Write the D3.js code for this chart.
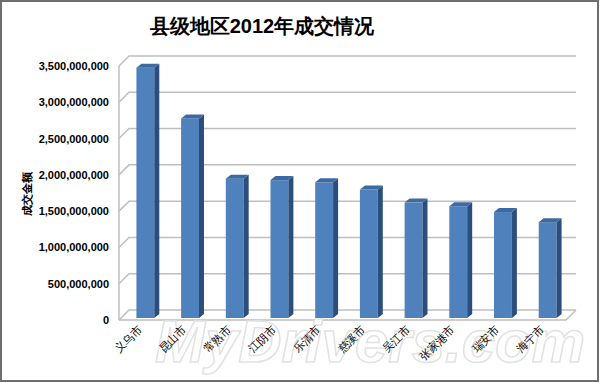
<!DOCTYPE html>
<html>
<head>
<meta charset="utf-8">
<script src="https://cdn.jsdelivr.net/npm/d3@7"></script>
<style>
  body { margin: 0; background: #fff; }
  text { font-family: "Liberation Sans", Arial, sans-serif; }
</style>
</head>
<body>
<svg width="600" height="383"></svg>
<script>
const categories = ["义乌市", "昆山市", "常熟市", "江阴市", "乐清市", "慈溪市", "吴江市", "张家港市", "瑞安市", "海宁市"];
const values = [3450000000, 2750000000, 1920000000, 1900000000, 1870000000, 1770000000, 1590000000, 1540000000, 1460000000, 1320000000];
const yTicks = [0, 500000000, 1000000000, 1500000000, 2000000000, 2500000000, 3000000000, 3500000000];

const svg = d3.select("svg");
const width = +svg.attr("width");
const height = +svg.attr("height");

// frame
svg.append("rect").attr("x", 1).attr("y", 1).attr("width", width - 3).attr("height", height - 3)
  .attr("fill", "#fff").attr("stroke", "#6e6e6e").attr("stroke-width", 2);

// 3d geometry: front plane and back wall offset
const depth = { dx: 10, dy: -10 };
const x0 = 119, x1 = 566;
const yFront = d3.scaleLinear().domain([0, 3500000000]).range([320, 66]);
const yBar = d3.scaleLinear().domain([0, 3500000000]).range([318, 64]);
const xBand = d3.scaleBand().domain(categories).range([x0 + 4, x1 + 4]).paddingInner(0.6).paddingOuter(0.3);

const grid = svg.append("g").attr("stroke", "#bfbfbf").attr("stroke-width", 1.5).attr("fill", "none");
// left side wall and back wall gridlines
yTicks.forEach(t => {
  const yf = yFront(t);
  grid.append("path").attr("d", "M" + x0 + "," + yf + "L" + (x0 + depth.dx) + "," + (yf + depth.dy) + "L" + (x1 + depth.dx) + "," + (yf + depth.dy));
});
// front vertical axis line
grid.append("line").attr("x1", x0).attr("x2", x0).attr("y1", yFront(3500000000)).attr("y2", yFront(0));
// floor front edge
grid.append("path").attr("d", "M" + x0 + "," + yFront(0) + "L" + x1 + "," + yFront(0) + "L" + (x1 + depth.dx) + "," + (yFront(0) + depth.dy));

// watermark
svg.append("text").attr("x", 155).attr("y", 362)
  .attr("font-size", 60).attr("font-weight", "bold").attr("font-style", "italic")
  .attr("textLength", 430).attr("lengthAdjust", "spacingAndGlyphs")
  .attr("fill", "#fff").attr("stroke", "#e2e2e2").attr("stroke-width", 1.5)
  .text("MyDrivers.com");

// bars
const side = { dx: 5, dy: -4 };
const bars = svg.append("g").selectAll("g").data(categories).join("g");
bars.each(function(c, i) {
  const g = d3.select(this);
  const xl = xBand(c), xr = xl + xBand.bandwidth();
  const yt = yBar(values[i]), yb = yBar(0);
  g.append("rect").attr("x", xl).attr("y", yt).attr("width", xBand.bandwidth()).attr("height", yb - yt).attr("fill", "#4f81bd");
  g.append("path").attr("d", "M" + xr + "," + yt + "L" + (xr + side.dx) + "," + (yt + side.dy) + "L" + (xr + side.dx) + "," + (yb + side.dy) + "L" + xr + "," + yb + "Z").attr("fill", "#2c4e7c");
  g.append("path").attr("d", "M" + xl + "," + yt + "L" + (xl + side.dx) + "," + (yt + side.dy) + "L" + (xr + side.dx) + "," + (yt + side.dy) + "L" + xr + "," + yt + "Z").attr("fill", "#3d6aa1");
});

// y axis labels
const yaxis = d3.axisLeft(yFront).tickValues(yTicks).tickSize(0).tickPadding(0).tickFormat(d3.format(","));
const ag = svg.append("g").attr("transform", "translate(109,0)").call(yaxis);
ag.select(".domain").remove();
ag.selectAll("text").attr("font-family", "Liberation Sans, Arial, sans-serif").attr("font-size", 11).attr("font-weight", "bold").attr("fill", "#000");

// x labels
svg.append("g").selectAll("text").data(categories).join("text")
  .attr("transform", d => "translate(" + (xBand(d) + xBand.bandwidth() / 2 - 3) + ",330) rotate(-45)")
  .attr("text-anchor", "end")
  .attr("font-family", "Noto Sans CJK SC")
  .attr("font-size", 11)
  .attr("fill", "#000")
  .text(d => d);

// y title
svg.append("text").attr("transform", "translate(31,194) rotate(-90)")
  .attr("text-anchor", "middle").attr("font-family", "Noto Sans CJK SC")
  .attr("font-size", 11).attr("font-weight", "bold").text("成交金额");

// title
svg.append("text").attr("x", 262).attr("y", 33).attr("text-anchor", "middle")
  .attr("font-family", "Noto Sans CJK SC").attr("font-size", 20).attr("font-weight", "bold")
  .text("县级地区2012年成交情况");
</script>
</body>
</html>
